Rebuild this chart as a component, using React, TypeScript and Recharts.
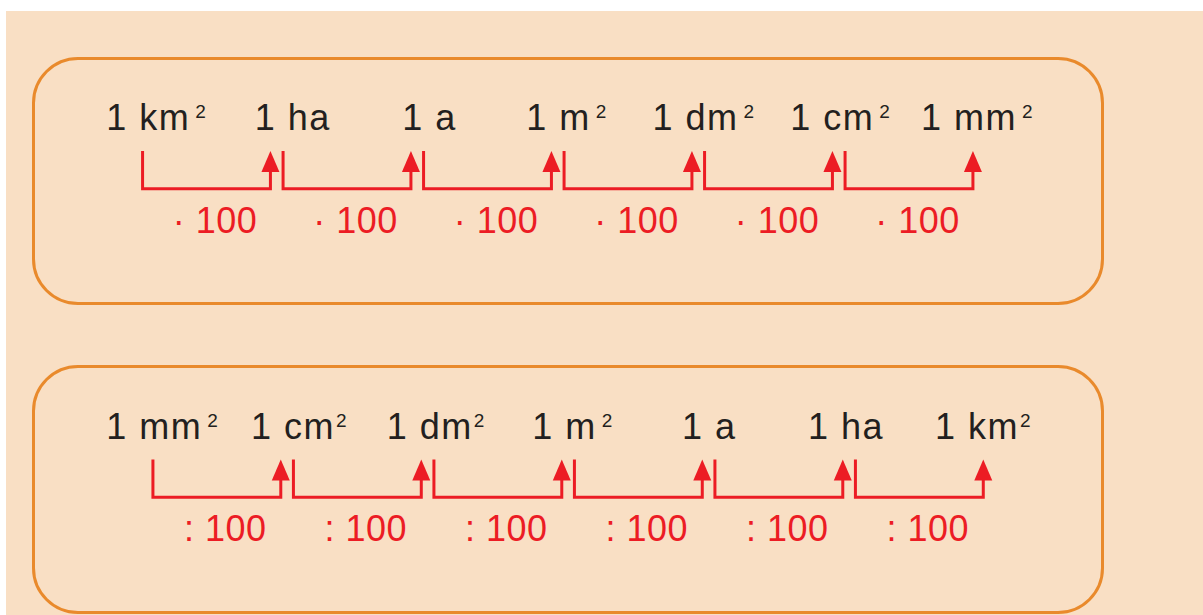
import React from "react";
import { ComposedChart, XAxis, YAxis, Line, Scatter } from "recharts";

// units of area, in the order of each row (" ²" = superscript set a bit apart)
const TOP_UNITS = ["1 km ²", "1 ha", "1 a", "1 m ²", "1 dm ²", "1 cm ²", "1 mm ²"];
const BOTTOM_UNITS = ["1 mm ²", "1 cm²", "1 dm²", "1 m ²", "1 a", "1 ha", "1 km²"];

// conversion factor written under each step
const TOP_FACTORS = ["· 100", "· 100", "· 100", "· 100", "· 100", "· 100"];
const BOTTOM_FACTORS = [": 100", ": 100", ": 100", ": 100", ": 100", ": 100"];

const W = 1203;
const ROW_H = 308;
const STEP_PX = 140.5; // distance between two brackets
const LABEL_STEP_PX = 136.8; // distance between two unit labels
const Y_PX = 21; // one y unit

const PEACH = "#f9dfc4";
const ORANGE = "#e98a2c";
const RED = "#ec1c24";
const INK = "#231f20";
const FONT = "'Liberation Sans', Arial, Helvetica, sans-serif";

// y levels (0 = baseline of the unit labels, growing downwards)
const LABEL_Y = 0;
const ARROW_TIP_Y = 1;
const BRACKET_Y = 2.8;
const FACTOR_Y = 4.9;
const GAP = 0.045; // space between a bracket end and the unit position
const FACTOR_SHIFT = 0.06;

type RowLayout = { top: number; unitX0: number; labelX0: number; baseline: number };

const TOP_LAYOUT: RowLayout = { top: 0, unitX0: 136.25, labelX0: 156, baseline: 130 };
const BOTTOM_LAYOUT: RowLayout = { top: 308, unitX0: 146.6, labelX0: 162, baseline: 130.5 };

function UnitLabel(props: any) {
  const { cx, cy, payload } = props;
  const text: string = payload.text;
  const hasSup = text.endsWith("²");
  const base = hasSup ? text.replace(/ ?²$/, "") : text;
  const wide = text.endsWith(" ²");
  return (
    <text
      x={cx}
      y={cy}
      textAnchor="middle"
      fill={INK}
      fontFamily={FONT}
      fontSize={36}
      letterSpacing={1.5}
    >
      {base}
      {hasSup && (
        <tspan fontSize={19} dx={wide ? 5 : 1} dy={-12} letterSpacing={0}>
          2
        </tspan>
      )}
    </text>
  );
}

function FactorLabel(props: any) {
  const { cx, cy, payload } = props;
  return (
    <text
      x={cx}
      y={cy}
      textAnchor="middle"
      fill={RED}
      fontFamily={FONT}
      fontSize={36}
      letterSpacing={0.5}
    >
      {payload.text}
    </text>
  );
}

function ArrowHead(props: any) {
  const { cx, cy } = props;
  return (
    <polygon
      points={`${cx},${cy} ${cx - 9},${cy + 21} ${cx + 9},${cy + 21}`}
      fill={RED}
    />
  );
}

function ConversionRow({
  units,
  factors,
  layout,
}: {
  units: string[];
  factors: string[];
  layout: RowLayout;
}) {
  const labelData = units.map((text, i) => ({ x: i, y: LABEL_Y, text }));
  const factorData = factors.map((text, i) => ({
    x: i + 0.5 + FACTOR_SHIFT,
    y: FACTOR_Y,
    text,
  }));
  const tipData = factors.map((_, i) => ({ x: i + 1 - GAP, y: ARROW_TIP_Y }));
  const brackets = factors.map((_, i) => [
    { x: i + GAP, y: ARROW_TIP_Y },
    { x: i + GAP, y: BRACKET_Y },
    { x: i + 1 - GAP, y: BRACKET_Y },
    { x: i + 1 - GAP, y: ARROW_TIP_Y + 0.5 },
  ]);

  const mainDomain = [-layout.unitX0 / STEP_PX, (W - layout.unitX0) / STEP_PX];
  const labelDomain = [
    -layout.labelX0 / LABEL_STEP_PX,
    (W - layout.labelX0) / LABEL_STEP_PX,
  ];
  const yDomain = [-layout.baseline / Y_PX, (ROW_H - layout.baseline) / Y_PX];

  return (
    <div style={{ position: "absolute", left: 0, top: layout.top }}>
      <ComposedChart
        width={W}
        height={ROW_H}
        margin={{ top: 0, right: 0, bottom: 0, left: 0 }}
      >
        <XAxis
          xAxisId="main"
          dataKey="x"
          type="number"
          domain={mainDomain}
          allowDataOverflow
          hide
        />
        <XAxis
          xAxisId="lbl"
          dataKey="x"
          type="number"
          domain={labelDomain}
          allowDataOverflow
          hide
        />
        <YAxis
          dataKey="y"
          type="number"
          domain={yDomain}
          reversed
          allowDataOverflow
          hide
        />
        {brackets.map((pts, i) => (
          <Line
            key={`br-${i}`}
            xAxisId="main"
            data={pts}
            dataKey="y"
            type="linear"
            stroke={RED}
            strokeWidth={3}
            strokeLinejoin="miter"
            strokeLinecap="butt"
            dot={false}
            activeDot={false}
            isAnimationActive={false}
          />
        ))}
        <Scatter
          xAxisId="main"
          data={tipData}
          shape={ArrowHead}
          isAnimationActive={false}
        />
        <Scatter
          xAxisId="lbl"
          data={labelData}
          shape={UnitLabel}
          isAnimationActive={false}
        />
        <Scatter
          xAxisId="main"
          data={factorData}
          shape={FactorLabel}
          isAnimationActive={false}
        />
      </ComposedChart>
    </div>
  );
}

export default function App() {
  return (
    <div
      style={{
        position: "relative",
        width: W,
        height: 615,
        background: "#fff",
        overflow: "hidden",
      }}
    >
      <style>{"body{margin:0}"}</style>
      <div
        style={{
          position: "absolute",
          left: 6,
          top: 11,
          right: 0,
          bottom: 0,
          background: PEACH,
        }}
      />
      <div
        style={{
          position: "absolute",
          left: 32,
          top: 57,
          width: 1072,
          height: 248,
          border: `3px solid ${ORANGE}`,
          borderRadius: 46,
          boxSizing: "border-box",
        }}
      />
      <div
        style={{
          position: "absolute",
          left: 32,
          top: 365,
          width: 1072,
          height: 249,
          border: `3px solid ${ORANGE}`,
          borderRadius: 46,
          boxSizing: "border-box",
        }}
      />
      <ConversionRow units={TOP_UNITS} factors={TOP_FACTORS} layout={TOP_LAYOUT} />
      <ConversionRow
        units={BOTTOM_UNITS}
        factors={BOTTOM_FACTORS}
        layout={BOTTOM_LAYOUT}
      />
    </div>
  );
}
